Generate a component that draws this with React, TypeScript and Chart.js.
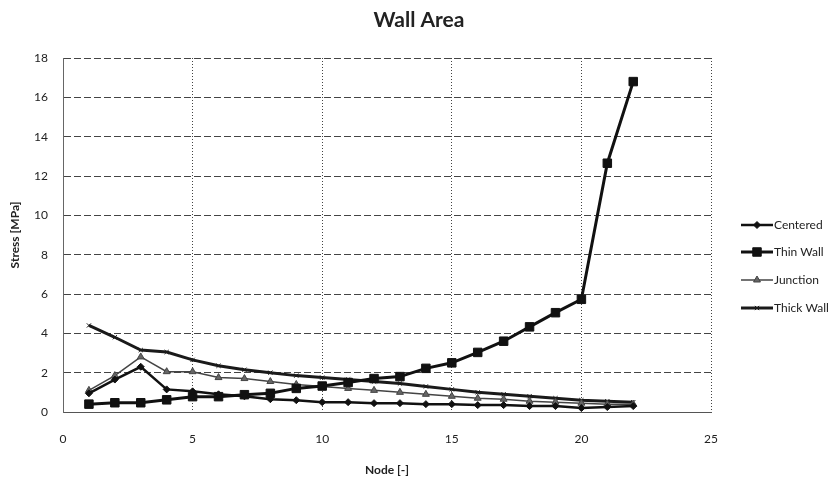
import React, { useEffect, useRef } from 'react';
import { Chart, registerables } from 'chart.js';
import { drawPoint } from 'chart.js/helpers';

Chart.register(...registerables);

const chartTitle = 'Wall Area';
const xTitle = 'Node [-]';
const yTitle = 'Stress [MPa]';
const seriesNames = ['Centered', 'Thin Wall', 'Junction', 'Thick Wall'];
const nodes = [1, 2, 3, 4, 5, 6, 7, 8, 9, 10, 11, 12, 13, 14, 15, 16, 17, 18, 19, 20, 21, 22];
const centered = [0.95, 1.65, 2.3, 1.15, 1.05, 0.9, 0.8, 0.65, 0.6, 0.5, 0.5, 0.45, 0.45, 0.4, 0.4, 0.35, 0.35, 0.3, 0.3, 0.2, 0.25, 0.3];
const thinWall = [0.4, 0.47, 0.47, 0.62, 0.78, 0.78, 0.88, 0.95, 1.2, 1.32, 1.5, 1.7, 1.8, 2.22, 2.5, 3.03, 3.6, 4.33, 5.05, 5.73, 12.65, 16.8];
const junction = [1.1, 1.85, 2.8, 2.05, 2.05, 1.75, 1.7, 1.55, 1.4, 1.3, 1.2, 1.1, 1.0, 0.9, 0.8, 0.7, 0.65, 0.55, 0.5, 0.45, 0.4, 0.4];
const thickWall = [4.4, 3.8, 3.15, 3.05, 2.65, 2.35, 2.15, 2.0, 1.85, 1.75, 1.65, 1.55, 1.45, 1.3, 1.15, 1.0, 0.9, 0.8, 0.7, 0.6, 0.55, 0.5];
const xTicks = [0, 5, 10, 15, 20, 25];
const yTicks = [0, 2, 4, 6, 8, 10, 12, 14, 16, 18];

const FONT = 'Lato, "Open Sans", sans-serif';

const toPoints = (vals: number[]) => nodes.map((n, i) => ({ x: n, y: vals[i] }));

const titlePlugin = {
  id: 'customTitle',
  afterDraw(chart: any) {
    const ctx = chart.ctx;
    ctx.save();
    ctx.fillStyle = '#222';
    ctx.font = `bold 21px ${FONT}`;
    ctx.textAlign = 'center';
    ctx.textBaseline = 'middle';
    ctx.fillText(chartTitle, chart.width / 2, 20);
    ctx.restore();
  },
};

const legendPlugin = {
  id: 'customLegend',
  afterDraw(chart: any) {
    const ctx = chart.ctx;
    const x0 = 741;
    const x1 = 773;
    const ys = [225, 252, 280, 308];
    ctx.save();
    chart.data.datasets.forEach((ds: any, i: number) => {
      const y = ys[i];
      ctx.strokeStyle = ds.borderColor;
      ctx.lineWidth = ds.borderWidth;
      ctx.beginPath();
      ctx.moveTo(x0, y);
      ctx.lineTo(x1, y);
      ctx.stroke();
      ctx.lineWidth = 1;
      ctx.fillStyle = ds.backgroundColor;
      ctx.strokeStyle = ds.borderColor;
      drawPoint(ctx, {
        pointStyle: ds.pointStyle,
        radius: ds.pointRadius,
        rotation: 0,
        borderWidth: 1,
      } as any, (x0 + x1) / 2, y);
      ctx.fillStyle = '#222';
      ctx.font = `12px ${FONT}`;
      ctx.textAlign = 'left';
      ctx.textBaseline = 'middle';
      ctx.fillText(ds.label, x1 + 1, y);
    });
    ctx.restore();
  },
};

export default function App() {
  const ref = useRef<HTMLCanvasElement | null>(null);

  useEffect(() => {
    document.body.style.margin = '0';
    if (!ref.current) return;
    const chart = new Chart(ref.current, {
      type: 'line',
      data: {
        datasets: [
          {
            label: seriesNames[0],
            data: toPoints(centered),
            borderColor: '#111',
            backgroundColor: '#111',
            borderWidth: 2.5,
            pointStyle: 'rectRot',
            pointRadius: 3.5,
            pointBorderWidth: 1,
          },
          {
            label: seriesNames[1],
            data: toPoints(thinWall),
            borderColor: '#111',
            backgroundColor: '#111',
            borderWidth: 3,
            pointStyle: 'rect',
            pointRadius: 6,
            pointBorderWidth: 1,
          },
          {
            label: seriesNames[2],
            data: toPoints(junction),
            borderColor: '#444',
            backgroundColor: '#666',
            borderWidth: 1.5,
            pointStyle: 'triangle',
            pointRadius: 4,
            pointBorderWidth: 1,
          },
          {
            label: seriesNames[3],
            data: toPoints(thickWall),
            borderColor: '#1a1a1a',
            backgroundColor: '#666',
            borderWidth: 3,
            pointStyle: 'crossRot',
            pointRadius: 3,
            pointBorderWidth: 1,
          },
        ],
      },
      options: {
        responsive: false,
        animation: false,
        devicePixelRatio: 1,
        layout: { padding: { left: 0, top: 58, right: 127, bottom: 0 } },
        plugins: {
          legend: { display: false },
          title: { display: false },
          tooltip: { enabled: false },
        },
        scales: {
          x: {
            type: 'linear',
            min: 0,
            max: 25,
            afterFit: (s: any) => { s.height = 67; },
            afterBuildTicks: (s: any) => { s.ticks = xTicks.map((v) => ({ value: v })); },
            ticks: { font: { family: FONT, size: 12 }, color: '#222', padding: 20 },
            grid: { color: '#444', lineWidth: 1, drawTicks: false },
            border: { display: true, color: '#555', dash: [1, 2] },
            title: {
              display: true,
              text: xTitle,
              font: { family: FONT, size: 12, weight: 'bold' },
              color: '#222',
              padding: { top: 0, bottom: 2 },
            },
          },
          y: {
            type: 'linear',
            min: 0,
            max: 18,
            afterFit: (s: any) => { s.width = 63; },
            afterBuildTicks: (s: any) => { s.ticks = yTicks.map((v) => ({ value: v })); },
            ticks: { font: { family: FONT, size: 12 }, color: '#222', padding: 15 },
            grid: { color: '#444', lineWidth: 1, drawTicks: false },
            border: { display: true, color: '#666', dash: [7, 3] },
            title: {
              display: true,
              text: yTitle,
              font: { family: FONT, size: 12, weight: 'bold' },
              color: '#222',
              padding: { top: 8, bottom: 0 },
            },
          },
        },
      } as any,
      plugins: [titlePlugin, legendPlugin],
    });
    return () => chart.destroy();
  }, []);

  return (
    <div style={{ position: 'absolute', left: 0, top: 0, width: 838, height: 479, background: '#fff' }}>
      <canvas ref={ref} width={838} height={479} style={{ width: 838, height: 479 }} />
    </div>
  );
}
